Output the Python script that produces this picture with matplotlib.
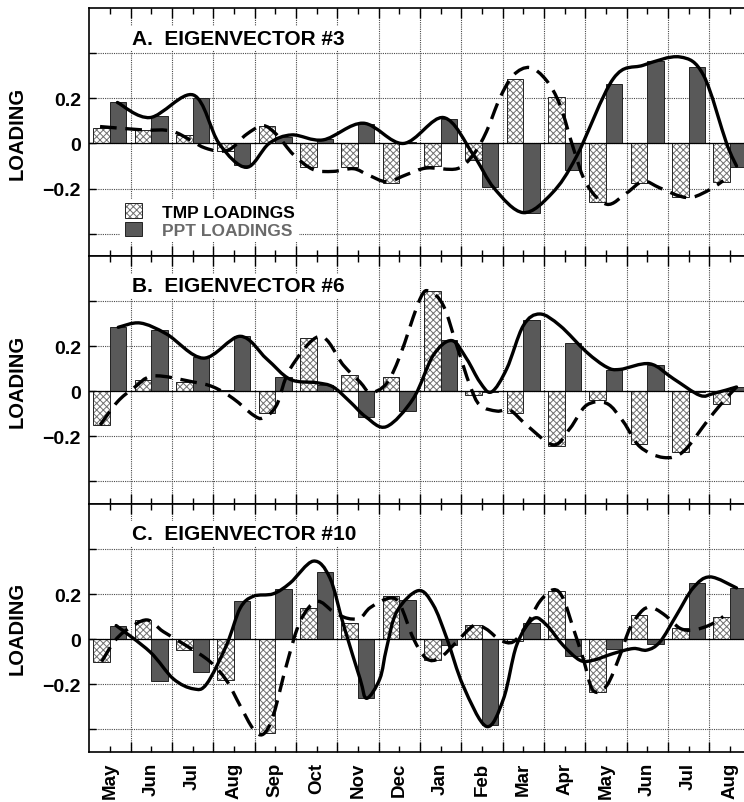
import matplotlib
matplotlib.use('Agg')
import matplotlib.pyplot as plt
import numpy as np
from matplotlib.path import Path
from matplotlib.patches import PathPatch, Patch
from matplotlib.legend_handler import HandlerTuple

plt.rcParams['font.family'] = ['Liberation Sans', 'DejaVu Sans']
plt.rcParams['font.weight'] = 'bold'
plt.rcParams['hatch.linewidth'] = 0.7

months = ['May', 'Jun', 'Jul', 'Aug', 'Sep', 'Oct', 'Nov', 'Dec',
          'Jan', 'Feb', 'Mar', 'Apr', 'May', 'Jun', 'Jul', 'Aug']

# bar loadings
tmp_a = [0.07, 0.06, 0.038, -0.032, 0.079, -0.106, -0.106, -0.175,
         -0.10, -0.075, 0.288, 0.206, -0.26, -0.175, -0.238, -0.17]
ppt_a = [0.185, 0.12, 0.20, -0.097, 0.03, 0.02, 0.085, 0.005,
         0.11, -0.193, -0.307, -0.116, 0.263, 0.365, 0.34, -0.106]
tmp_b = [-0.15, 0.051, 0.041, 0.005, -0.098, 0.237, 0.07, 0.063,
         0.443, -0.018, -0.096, -0.241, -0.037, -0.235, -0.27, -0.057]
ppt_b = [0.284, 0.274, 0.151, 0.244, 0.063, 0.026, -0.113, -0.087,
         0.228, -0.003, 0.318, 0.215, 0.096, 0.118, -0.005, 0.02]
tmp_c = [-0.10, 0.085, -0.049, -0.18, -0.415, 0.14, 0.073, 0.19,
         -0.094, 0.063, -0.009, 0.212, -0.236, 0.107, 0.05, 0.10]
ppt_c = [0.06, -0.188, -0.146, 0.167, 0.222, 0.298, -0.263, 0.175,
         -0.027, -0.382, 0.07, -0.075, -0.042, -0.024, 0.249, 0.227]

# smooth curves, points (x in month index)
ppt_curve_a_x = [0.18, 0.97, 2.02, 2.64, 3.3, 3.85, 4.4, 5.16, 6.13, 7.1, 8.07,
                 8.79, 9.3, 10.0, 10.7, 11.29, 12.18, 12.9, 13.79, 14.36, 14.92, 15.16]
ppt_curve_a_y = [0.182, 0.115, 0.215, 0.0, -0.106, 0.0, 0.038, 0.016, 0.09, 0.0, 0.115,
                 -0.05, -0.2, -0.307, -0.22, -0.057, 0.288, 0.347, 0.384, 0.303, 0.0, -0.10]
tmp_curve_a_x = [-0.24, 0.8, 1.53, 2.3, 2.85, 3.3, 3.7, 4.03, 4.44, 4.92, 5.4, 5.89,
                 6.25, 6.7, 7.18, 7.66, 8.4, 8.79, 9.11, 9.43, 9.76, 10.16, 10.56,
                 10.89, 11.21, 11.53, 12.02, 12.5, 12.9, 13.3, 13.79, 14.11, 14.52, 14.84]
tmp_curve_a_y = [0.075, 0.06, 0.053, -0.02, -0.03, 0.04, 0.079, 0.04, -0.05, -0.116, -0.124, -0.112,
                 -0.14, -0.17, -0.138, -0.109, -0.112, -0.05, 0.053, 0.2, 0.303, 0.337, 0.28,
                 0.17, -0.02, -0.18, -0.27, -0.22, -0.168, -0.197, -0.234, -0.238, -0.204, -0.165]

ppt_curve_b_x = [0.2, 0.73, 1.37, 2.26, 3.15, 3.79, 4.36, 5.0, 5.4, 5.81, 6.2, 6.69,
                 7.34, 7.82, 8.27, 8.63, 8.95, 9.23, 9.6, 10.0, 10.4, 10.89, 11.53,
                 12.02, 12.34, 13.06, 13.63, 14.27, 14.6, 15.16]
ppt_curve_b_y = [0.284, 0.303, 0.254, 0.147, 0.244, 0.144, 0.053, 0.038, 0.019, -0.047, -0.115, -0.157,
                 -0.032, 0.159, 0.225, 0.144, 0.041, -0.003, 0.1, 0.291, 0.343, 0.291, 0.174,
                 0.107, 0.097, 0.122, 0.056, -0.018, -0.01, 0.019]
tmp_curve_b_x = [-0.24, 0.18, 0.56, 1.05, 2.02, 2.5, 2.98, 3.47, 3.71, 4.03, 4.36, 5.08,
                 5.65, 6.05, 6.3, 6.69, 7.02, 7.5, 7.74, 8.07, 8.39, 8.71, 8.95, 9.36,
                 9.68, 10.08, 10.73, 11.13, 11.53, 12.02, 12.42, 12.82, 13.39, 13.87,
                 14.44, 14.76, 15.16]
tmp_curve_b_y = [-0.15, -0.047, 0.012, 0.068, 0.041, 0.019, -0.032, -0.106, -0.118, -0.062, 0.1, 0.244,
                 0.115, 0.041, -0.005, 0.034, 0.159, 0.409, 0.443, 0.379, 0.203, 0.026, -0.062, -0.088,
                 -0.084, -0.15, -0.238, -0.165, -0.062, -0.054, -0.135, -0.246, -0.294, -0.268,
                 -0.135, -0.062, 0.019]

ppt_curve_c_x = [0.15, 0.97, 1.53, 2.02, 2.34, 2.82, 3.15, 3.47, 3.95, 4.36, 4.92, 5.32,
                 5.65, 6.05, 6.21, 6.53, 6.69, 6.94, 7.46, 7.82, 8.15, 8.55, 9.11, 9.52,
                 9.84, 10.24, 10.56, 10.96, 11.37, 11.69, 12.18, 12.66, 12.99, 13.31,
                 13.71, 14.11, 14.52, 15.16]
ppt_curve_c_y = [0.06, -0.057, -0.176, -0.221, -0.199, -0.027, 0.137, 0.19, 0.201, 0.249, 0.346, 0.272,
                 0.063, -0.176, -0.263, -0.176, -0.042, 0.122, 0.215, 0.152, 0.003, -0.209, -0.388, -0.266,
                 -0.027, 0.09, 0.063, -0.027, -0.094, -0.094, -0.064, -0.042, -0.049, -0.012,
                 0.107, 0.227, 0.276, 0.227]
tmp_curve_c_x = [-0.2, 0.1, 0.4, 0.89, 1.29, 1.89, 2.42, 2.82, 3.15, 3.47, 3.71, 3.95,
                 4.27, 4.6, 5.0, 5.4, 5.73, 6.05, 6.3, 6.77, 7.02, 7.34, 7.66, 7.98,
                 8.39, 8.8, 9.1, 9.44, 9.76, 10.08, 10.4, 10.73, 10.96, 11.21, 11.45,
                 11.69, 12.02, 12.34, 12.58, 12.9, 13.15, 13.47, 13.79, 14.11, 14.52, 14.84]
tmp_curve_c_y = [-0.10, -0.012, 0.04, 0.085, 0.033, -0.034, -0.1, -0.184, -0.296, -0.4, -0.422, -0.34,
                 -0.116, 0.078, 0.167, 0.122, 0.093, 0.093, 0.14, 0.182, 0.152, 0.003, -0.087, -0.084,
                 -0.012, 0.06, 0.045, -0.004, -0.012, 0.063, 0.167, 0.219, 0.182, 0.048, -0.087,
                 -0.228, -0.206, -0.072, 0.048, 0.13, 0.137, 0.1, 0.048, 0.04, 0.063, 0.1]

panels = [
    ('A.  EIGENVECTOR #3', tmp_a, ppt_a, (ppt_curve_a_x, ppt_curve_a_y), (tmp_curve_a_x, tmp_curve_a_y)),
    ('B.  EIGENVECTOR #6', tmp_b, ppt_b, (ppt_curve_b_x, ppt_curve_b_y), (tmp_curve_b_x, tmp_curve_b_y)),
    ('C.  EIGENVECTOR #10', tmp_c, ppt_c, (ppt_curve_c_x, ppt_curve_c_y), (tmp_curve_c_x, tmp_curve_c_y)),
]

PPT_COLOR = '#595959'
HATCH_COLOR = '#707070'


def smooth_path(xs, ys):
    """Catmull-Rom style bezier path through the read points"""
    pts = np.column_stack([xs, ys])
    n = len(pts)
    verts = [pts[0]]
    codes = [Path.MOVETO]
    for i in range(n - 1):
        p0 = pts[max(i - 1, 0)]
        p1 = pts[i]
        p2 = pts[i + 1]
        p3 = pts[min(i + 2, n - 1)]
        verts += [p1 + (p2 - p0) / 6.0, p2 - (p3 - p1) / 6.0, p2]
        codes += [Path.CURVE4] * 3
    return Path(verts, codes)


fig = plt.figure(figsize=(7.44, 8.03), dpi=100)

left = 89.3 / 744
width = 661.3 / 744
top = 1 - 9.3 / 803
bottom = 1 - 752.7 / 803
ph = (top - bottom) / 3

x = np.arange(len(months))
bw = 0.4

for i, (title, tmp, ppt, solid, dashed) in enumerate(panels):
    ax = fig.add_axes([left, top - (i + 1) * ph, width, ph])
    ax.set_xlim(-0.5, len(months) - 0.5)
    ax.set_ylim(-0.5, 0.6)
    ax.set_axisbelow(True)

    # TMP bars: hatch layer, then black outline
    ax.bar(x - bw / 2, tmp, width=bw, facecolor='white', edgecolor=HATCH_COLOR,
           hatch='xxxxx', linewidth=0, zorder=2)
    ax.bar(x - bw / 2, tmp, width=bw, facecolor='none', edgecolor='#222222',
           linewidth=0.7, zorder=2.1)
    ax.bar(x + bw / 2, ppt, width=bw, facecolor=PPT_COLOR, edgecolor='#222222',
           linewidth=0.7, zorder=2.1)

    ax.axhline(0, color='black', lw=0.9, zorder=2.5)

    ax.add_patch(PathPatch(smooth_path(*solid), fill=False, edgecolor='black',
                           lw=2.4, zorder=3, capstyle='round', joinstyle='round'))
    ax.add_patch(PathPatch(smooth_path(*dashed), fill=False, edgecolor='black',
                           lw=2.4, linestyle=(0, (5, 2.6)), zorder=3))

    # ticks and grid
    ax.set_xticks(x)
    ax.set_xticks(x[:-1] + 0.5, minor=True)
    ax.set_yticks([-0.4, -0.2, 0, 0.2, 0.4])
    ax.set_yticklabels(['', '\u22120.2', '0', '0.2', ''])
    ax.tick_params(axis='y', direction='in', length=5, width=1, labelsize=14, pad=6)
    ax.tick_params(axis='x', which='major', direction='in', length=4, width=1,
                   top=True, bottom=True)
    ax.tick_params(axis='x', which='minor', direction='in', length=7, width=1,
                   top=True, bottom=True)
    ax.grid(True, axis='x', which='minor', linestyle=(0, (1, 1)), color='#4a4a4a', lw=0.8)
    ax.grid(True, axis='y', which='major', linestyle=(0, (1, 1)), color='#4a4a4a', lw=0.8)
    for sp in ax.spines.values():
        sp.set_linewidth(1.2)

    if i < 2:
        ax.set_xticklabels([])
    else:
        ax.set_xticklabels(months, rotation=90, fontsize=13.5, fontweight='bold')
        ax.tick_params(axis='x', which='major', pad=7)

    ax.set_ylabel('LOADING', fontsize=14.5, fontweight='bold')
    ax.yaxis.set_label_coords(-0.095, 0.5)

    ax.text(0.064, 0.88, title, transform=ax.transAxes, fontsize=15, fontweight='bold',
            ha='left', va='center', zorder=6,
            bbox=dict(facecolor='white', edgecolor='none', pad=2))

    if i == 0:
        h_tmp = (Patch(facecolor='white', edgecolor=HATCH_COLOR, hatch='xxxxx', lw=0),
                 Patch(facecolor='none', edgecolor='#222222', lw=0.7))
        h_ppt = Patch(facecolor=PPT_COLOR, edgecolor='#222222', lw=0.7)
        leg = ax.legend([h_tmp, h_ppt], ['TMP LOADINGS', 'PPT LOADINGS'],
                        handler_map={tuple: HandlerTuple(ndivide=1)},
                        loc='upper left', bbox_to_anchor=(0.047, 0.23),
                        borderaxespad=0, borderpad=0.25, frameon=True,
                        fancybox=False, framealpha=1, edgecolor='none',
                        facecolor='white', handlelength=1.0, handleheight=0.9,
                        handletextpad=1.15, labelspacing=0.12,
                        prop={'size': 12.5, 'weight': 'bold'},
                        labelcolor=['black', '#6a6a6a'])
        leg.set_zorder(7)

fig.savefig('out.png', dpi=100, facecolor='white')
